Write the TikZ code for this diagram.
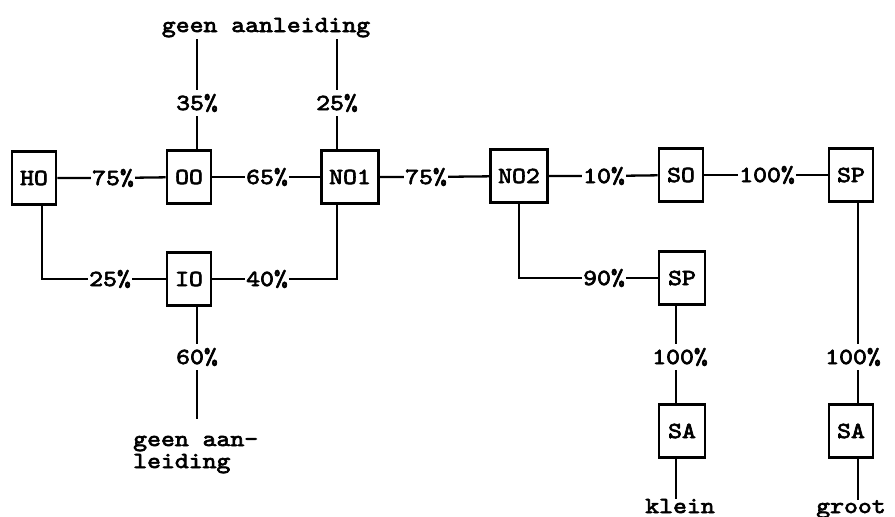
\documentclass[tikz,border=0pt]{standalone}
\usepackage{fontspec}
\newfontfamily\twfont{lmmono10-regular.otf}[FakeBold=3,FakeStretch=1.15]
\begin{document}
\begin{tikzpicture}[x=1pt,y=-1pt,
  every node/.style={font=\twfont\fontsize{23}{22}\selectfont},
  stepbox/.style={draw,line width=2.6pt,minimum width=44pt,minimum height=53pt,inner sep=0pt},
  widebox/.style={stepbox,minimum width=57pt},
  pct/.style={inner xsep=1pt,inner ysep=4pt},
  conn/.style={line width=2.3pt}]
\useasboundingbox (0,0) rectangle (895,517);
% boxes
\node[stepbox] (HO)  at (34,178) {HO};
\node[stepbox] (OO)  at (189,177) {OO};
\node[widebox] (NO1) at (350,177) {NO1};
\node[widebox] (NO2) at (519,176) {NO2};
\node[stepbox] (SO)  at (681,175) {SO};
\node[stepbox] (SP1) at (851,175) {SP};
\node[stepbox] (IO)  at (189,279) {IO};
\node[stepbox,minimum width=46pt] (SP2) at (682,278) {SP};
\node[stepbox,minimum width=46pt] (SA1) at (682,431) {SA};
\node[stepbox] (SA2) at (851,431) {SA};
% texts
\node[anchor=base,inner sep=2pt] (top) at (266,32) {geen aanleiding};
\node[anchor=base west,inner sep=0pt,align=left] (bot) at (133,468) {geen aan-\\leiding};
\node[anchor=base,inner sep=0pt] (klein) at (680,513) {klein};
\node[anchor=base,inner sep=0pt] (groot) at (851,513) {groot};
% percentage labels
\node[pct] (p35)  at (197,103) {35\%};
\node[pct] (p25)  at (337,103) {25\%};
\node[pct] (p75a) at (113,178) {75\%};
\node[pct] (p65)  at (267,177) {65\%};
\node[pct] (p75b) at (426,177) {75\%};
\node[pct] (p10)  at (604,176) {10\%};
\node[pct] (p100a) at (767,175) {100\%};
\node[pct] (p25b) at (110,279) {25\%};
\node[pct] (p40)  at (267,279) {40\%};
\node[pct] (p60)  at (197,357) {60\%};
\node[pct] (p90)  at (604,278) {90\%};
\node[pct] (p100b) at (680,357) {100\%};
\node[pct] (p100c) at (853,357) {100\%};
% helper coordinates
\coordinate (c1) at (42,279);
\coordinate (c2) at (337,279);
\coordinate (c3) at (197,419);
\coordinate (c4) at (519,278);
\coordinate (c5) at (676,0);
\coordinate (c6) at (858,0);
% top connectors
\draw[conn] (p35 |- top.south) -- (p35.north);
\draw[conn] (p35.south) -- (p35 |- OO.north);
\draw[conn] (p25 |- top.south) -- (p25.north);
\draw[conn] (p25.south) -- (p25 |- NO1.north);
% main row
\draw[conn] (HO) -- (p75a) -- (OO);
\draw[conn] (OO) -- (p65) -- (NO1);
\draw[conn] (NO1) -- (p75b) -- (NO2);
\draw[conn] (NO2) -- (p10) -- (SO);
\draw[conn] (SO) -- (p100a) -- (SP1);
% lower loop
\draw[conn] (c1 |- HO.south) -- (c1) -- (p25b) -- (IO);
\draw[conn] (IO) -- (p40.west);
\draw[conn] (p40.east) -- (c2) -- (c2 |- NO1.south);
\draw[conn] (p60 |- IO.south) -- (p60.north);
\draw[conn] (p60.south) -- (c3);
% right part
\draw[conn] (NO2.south) -- (c4) -- (p90) -- (SP2);
\draw[conn] (c5 |- SP2.south) -- (c5 |- p100b.north);
\draw[conn] (c5 |- p100b.south) -- (c5 |- SA1.north);
\draw[conn] (c5 |- SA1.south) -- (c5 |- klein.north);
\draw[conn] (c6 |- SP1.south) -- (c6 |- p100c.north);
\draw[conn] (c6 |- p100c.south) -- (c6 |- SA2.north);
\draw[conn] (c6 |- SA2.south) -- (c6 |- groot.north);
\end{tikzpicture}
\end{document}
